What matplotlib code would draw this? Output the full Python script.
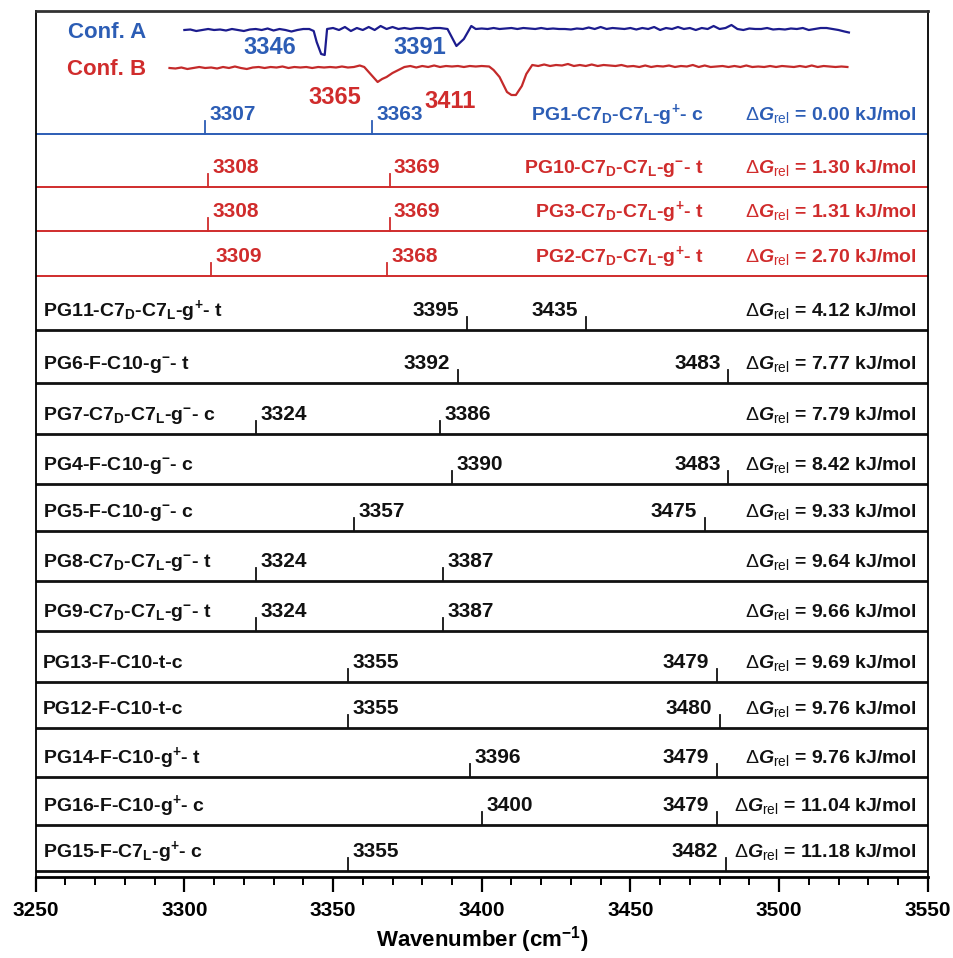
import numpy as np
import matplotlib
matplotlib.use('Agg')
import matplotlib.pyplot as plt
from matplotlib.ticker import MultipleLocator

plt.rcParams['font.family'] = ['Liberation Sans', 'DejaVu Sans']
plt.rcParams['font.weight'] = 'bold'
plt.rcParams['mathtext.fontset'] = 'custom'
plt.rcParams['mathtext.rm'] = 'Liberation Sans:weight=normal'
plt.rcParams['mathtext.bf'] = 'Liberation Sans:weight=bold'
plt.rcParams['mathtext.it'] = 'Liberation Sans:style=italic:weight=bold'
plt.rcParams['mathtext.default'] = 'bf'

BLUE = '#2c5db5'
NAVY = '#1c1c8e'
RED = '#d02c2c'
BLACK = '#111111'

# --- calculated conformers ---
P = r'$^{\!+}\!$'
M = r'$^{-}$'
names = [
    'PG1-C7$_D$-C7$_L$-g' + P + '- c', 'PG10-C7$_D$-C7$_L$-g' + M + '- t',
    'PG3-C7$_D$-C7$_L$-g' + P + '- t', 'PG2-C7$_D$-C7$_L$-g' + P + '- t',
    'PG11-C7$_D$-C7$_L$-g' + P + '- t', 'PG6-F-C10-g' + M + '- t',
    'PG7-C7$_D$-C7$_L$-g' + M + '- c', 'PG4-F-C10-g' + M + '- c',
    'PG5-F-C10-g' + M + '- c', 'PG8-C7$_D$-C7$_L$-g' + M + '- t',
    'PG9-C7$_D$-C7$_L$-g' + M + '- t', 'PG13-F-C10-t-c', 'PG12-F-C10-t-c',
    'PG14-F-C10-g' + P + '- t', 'PG16-F-C10-g' + P + '- c',
    'PG15-F-C7$_L$-g' + P + '- c',
]
peaks = [
    [3307, 3363], [3308, 3369], [3308, 3369], [3309, 3368],
    [3395, 3435], [3392, 3483], [3324, 3386], [3390, 3483],
    [3357, 3475], [3324, 3387], [3324, 3387], [3355, 3479],
    [3355, 3480], [3396, 3479], [3400, 3479], [3355, 3482],
]
dG = [0.00, 1.30, 1.31, 2.70, 4.12, 7.77, 7.79, 8.42,
      9.33, 9.64, 9.66, 9.69, 9.76, 9.76, 11.04, 11.18]
row_colors = [BLUE, RED, RED, RED] + [BLACK] * 12

# --- experimental traces (IR-UV depletion, relative units) ---
wn_a = [3300, 3302, 3304, 3306, 3308, 3310, 3312, 3314, 3316, 3318, 3320,
        3322, 3324, 3326, 3328, 3330, 3332, 3334, 3336, 3338, 3340, 3342,
        3343.5, 3344.5, 3346, 3347.2, 3348, 3350, 3352, 3354, 3356, 3358,
        3360, 3362, 3364, 3366, 3368, 3370, 3372, 3374, 3376, 3378, 3380,
        3382, 3384, 3386, 3388.5, 3391.5, 3394, 3396.5, 3398, 3400, 3402,
        3404, 3406, 3408, 3410, 3412, 3414, 3416, 3418, 3420, 3422, 3424,
        3426, 3428, 3430, 3432, 3434, 3436, 3438, 3440, 3442, 3444, 3446,
        3448, 3450, 3452, 3454, 3456, 3458, 3460, 3462, 3464, 3466, 3468,
        3470, 3472, 3474, 3476, 3478, 3480, 3482, 3484, 3486, 3488, 3490,
        3492, 3494, 3496, 3498, 3500, 3502, 3504, 3506, 3508, 3510, 3512,
        3514, 3516, 3518, 3520, 3522, 3523.5]
int_a = [0, 0.5, -1, 0, 1, 0, 0.5, -0.5, 1, 0, -1,
         0.5, 1, 0, 1.5, -0.5, 1, 0, -1.5, 0, 1, 1,
         -1, -12, -24, -25, 1, 2, 0, 3, -1, 2,
         0, 3, 0, 4, 1, 3, 1, 2, 1, 2, 2,
         1, 2, 2, 1, -16, -9, 4, 1, 1.5, 1,
         2, 1, 1.5, 2, 1, 2, 1.5, 1, 2, 1, 1.5,
         1, 1, 0.5, 1.5, 1, 2.5, 1, 3, 1, 2, 1.5,
         1, 2, 0.5, 2, 1, 3, 0, 2, 1, 3, 1,
         2, 0, 2, 1, 4, 1, 2, 5, 1, 0, 1.5,
         1, 1, 2, 0.5, 1, 0.5, 1.5, 1, 2, 0, 1,
         2, 2, 1, 0, -1.5, -2.5]

wn_b = [3295, 3297, 3299, 3301, 3303, 3305, 3307, 3309, 3311, 3313, 3315,
        3317, 3319, 3321, 3323, 3325, 3327, 3329, 3331, 3333, 3335, 3337,
        3339, 3341, 3343, 3345, 3347, 3349, 3351, 3353, 3355, 3357, 3359,
        3360.5, 3362, 3363.5, 3365, 3366.5, 3368, 3370, 3372, 3374, 3376,
        3378, 3380, 3382, 3384, 3386, 3388, 3390, 3392, 3394, 3396, 3398,
        3400, 3402.5, 3404, 3406, 3408.5, 3410, 3411.5, 3413.5, 3415, 3417,
        3419, 3421, 3423, 3425, 3427, 3429, 3431, 3433, 3435, 3437, 3439,
        3441, 3443, 3445, 3447, 3449, 3451, 3453, 3455, 3457, 3459, 3461,
        3463, 3465, 3467, 3469, 3471, 3473, 3475, 3477, 3479, 3481, 3483,
        3485, 3487, 3489, 3491, 3493, 3495, 3497, 3499, 3501, 3503, 3505,
        3507, 3509, 3511, 3513, 3515, 3517, 3519, 3521, 3523]
int_b = [0, -0.5, 0.5, -1, 0, 1, 0, 0.5, -0.5, 1, 0,
         1.5, 0, -1, 0.5, 1, 0, 1, 0.5, 1.5, 0, 1,
         0.5, 1, 0, 1, 0.5, 1, 0.5, 1.5, 0.5, 1, 2.5,
         1, -4, -9, -14, -11, -9, -5, -2, 1, 2,
         0.5, 2, 1, 2.5, 1, 2, 1.5, 2, 1, 2, 1.5,
         2, 1.5, -2, -9, -24, -27, -27, -18, -6, 3,
         2, 3.5, 2, 3, 2.5, 4, 2, 3, 2, 3.5, 2,
         3, 2.5, 2, 3, 1.5, 2, 1, 2.5, 1, 2, 1.5,
         2.5, 1, 2, 1.5, 3, 1, 2.5, 1, 1.5, 2, 1,
         2, 1, 2.5, 1, 1.5, 1, 2, 1, 2, 1.5, 1,
         2, 1, 2.5, 1, 2, 1.5, 1, 1.5, 1]
exp_peaks_a = [3346, 3391]
exp_peaks_b = [3365, 3411]

# layout (y in pixel rows, axis inverted)
row_pos = [134, 187, 231, 276, 330, 383, 434, 484, 531, 581, 631, 682,
           728, 777, 825, 871]
label_left = [[0, 0], [0, 0], [0, 0], [0, 0], [1, 1], [1, 1], [0, 0], [0, 1],
              [0, 1], [0, 0], [0, 0], [0, 1], [0, 1], [0, 1], [0, 1], [0, 1]]
base_a, base_b = 30, 68
exp_label_dx_a = [8.5, 3]
exp_label_dx_b = [5.5, 13]
exp_label_y_a = [47, 47]
exp_label_y_b = [97, 101]

fig = plt.figure(figsize=(9.54, 9.58), dpi=100)
ax = fig.add_axes([35.7 / 954, 81 / 958, 892 / 954, 866 / 958])
ax.set_xlim(3250, 3550)
ax.set_ylim(877, 11)

# experimental traces
ax.plot(wn_a, base_a - np.array(int_a), color=NAVY, lw=1.6)
ax.plot(wn_b, base_b - np.array(int_b), color='#c42a2a', lw=1.6)
ax.text(3261, base_a + 2, 'Conf. A', color=BLUE, fontsize=16, va='center')
ax.text(3260.5, base_b + 1, 'Conf. B', color=RED, fontsize=16, va='center')
for p, dx, y in zip(exp_peaks_a, exp_label_dx_a, exp_label_y_a):
    ax.text(p - dx, y, str(p), color=BLUE, fontsize=17, ha='right', va='center')
for p, dx, y in zip(exp_peaks_b, exp_label_dx_b, exp_label_y_b):
    ax.text(p - dx, y, str(p), color=RED, fontsize=17, ha='right', va='center')

# calculated stick spectra
for i, (name, pk, g, c, y) in enumerate(zip(names, peaks, dG, row_colors, row_pos)):
    lw = 1.4 if c != BLACK else 2.0
    ax.axhline(y, color=c, lw=lw)
    for p, left in zip(pk, label_left[i]):
        ax.plot([p, p], [y, y - 13], color=c, lw=1.3)
        if left:
            ax.text(p - 2.5, y - 20, str(p), color=c, fontsize=15,
                    ha='right', va='center')
        else:
            ax.text(p + 1.5, y - 20, str(p), color=c, fontsize=15,
                    ha='left', va='center')
    if c == BLACK:
        ax.text(3252.3, y - 19, name, color=c, fontsize=14, ha='left', va='center')
    else:
        ax.text(3474.5, y - 19, name, color=c, fontsize=14, ha='right', va='center')
    ax.text(3546.3, y - 19, r'$\mathrm{\Delta}\mathit{G}_{\mathrm{rel}}$' + f' = {g:.2f} kJ/mol',
            color=c, fontsize=14, ha='right', va='center')

ax.set_yticks([])
ax.xaxis.set_major_locator(MultipleLocator(50))
ax.xaxis.set_minor_locator(MultipleLocator(10))
ax.tick_params(axis='x', which='major', direction='out', length=11, width=1.6,
               labelsize=15, pad=6)
ax.tick_params(axis='x', which='minor', direction='out', length=6, width=1.4)
for s in ['left', 'right']:
    ax.spines[s].set_linewidth(1.3)
ax.spines['top'].set_linewidth(2.0)
ax.spines['top'].set_color('#333333')
ax.spines['bottom'].set_linewidth(2.0)
ax.set_xlabel('Wavenumber (cm$^{-1}$)', fontsize=16, fontweight='bold', labelpad=3)

fig.savefig('out.png', dpi=100)
